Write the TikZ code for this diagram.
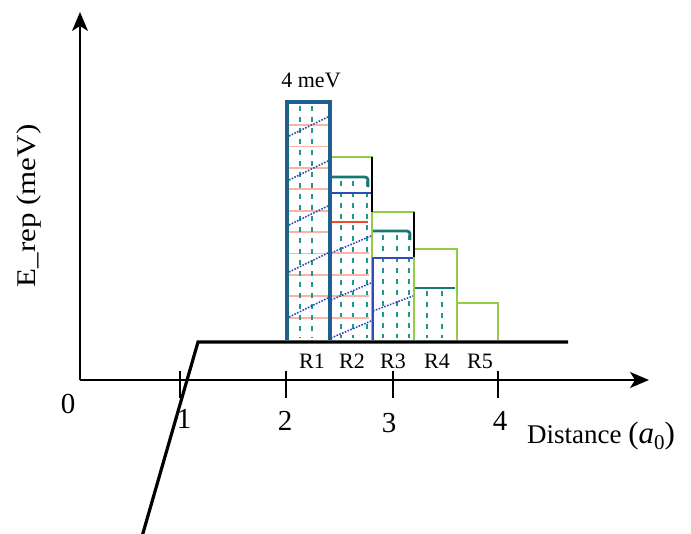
\documentclass[tikz,border=0pt]{standalone}
\usepackage{fontspec}
\setmainfont{Liberation Serif}
\usetikzlibrary{arrows.meta}
\definecolor{tealc}{RGB}{32,150,140}
\definecolor{darkteal}{RGB}{25,105,125}
\definecolor{bluec}{RGB}{45,75,185}
\definecolor{greenc}{RGB}{145,205,70}
\definecolor{pinkc}{RGB}{250,180,165}
\definecolor{redc}{RGB}{240,75,45}
\tikzset{
 axisline/.style={line width=1.4pt,-{Stealth[length=19pt,width=16pt,inset=5pt]}},
 tickline/.style={line width=1.9pt},
 numlbl/.style={font=\fontsize{29}{31}\selectfont, inner sep=0pt, anchor=base},
 rlbl/.style={font=\fontsize{22}{24}\selectfont, inner sep=0pt, anchor=base},
 vdash/.style={tealc,line width=1.9pt,dash pattern=on 5pt off 6pt},
 pinkl/.style={pinkc,line width=1.8pt},
 diagl/.style={bluec,line width=1.6pt,dash pattern=on 1.6pt off 1.4pt},
 greenl/.style={greenc,line width=2.8pt},
 tealtop/.style={tealc!80!black, line width=2.8pt, rounded corners=3pt},
 bluetop/.style={bluec, line width=2.8pt},
 baseline/.style={line width=3.2pt, black},
}
\begin{document}
\begin{tikzpicture}[x=1pt,y=-1pt]
\path[use as bounding box] (0,0) rectangle (691,533);
% axes
\coordinate (O) at (80,380);
\coordinate (ytip) at (80,12);
\coordinate (xtip) at (649,380);
\draw[axisline] (O) -- (ytip);
\draw[axisline] (O) -- (xtip);
\foreach \x in {180,286,393,498} \draw[tickline] (\x,371) -- (\x,398);
\node[numlbl] (n0) at (68,413) {0};
\node[numlbl] (n1) at (184,428) {1};
\node[numlbl] (n2) at (285,430) {2};
\node[numlbl] (n3) at (389,432) {3};
\node[numlbl] (n4) at (500,430) {4};
\node[font=\fontsize{27}{29}\selectfont, inner sep=0pt, anchor=base west] (dist) at (527,443) {Distance {\fontsize{31}{33}\selectfont(\textit{a}\raisebox{-0.22em}{\fontsize{21}{22}\selectfont 0})}};
\node[font=\fontsize{27}{29}\selectfont, inner sep=0pt, rotate=90] (erep) at (29,206) {\scalebox{1.15}[1]{E\_rep (meV)}};
\node[rlbl] (t4) at (311,87) {4 meV};
% R2..R5 green staircase
\draw[greenl] (331,340) -- (331,157) -- (372,157) -- (372,340);
\draw[greenl] (372,212) -- (414,212) -- (414,340);
\draw[greenl] (414,249) -- (457,249) -- (457,340);
\draw[greenl] (457,303) -- (498,303) -- (498,340);
% R2 interior
\foreach \x in {341,353,367} \draw[vdash] (\x,181) -- (\x,338);
\foreach \y in {253,275,296,318} \draw[pinkl] (332,\y) -- (369,\y);
\draw[redc, line width=2.8pt] (331,222) -- (368,222);
\begin{scope}
\clip (331,193) rectangle (371,340);
\draw[diagl] (331,253) -- (371,236);
\draw[diagl] (331,300) -- (371,283);
\draw[diagl] (331,338) -- (371,321);
\end{scope}
\draw[tealtop] (331,177) -- (368,177) -- (368,187);
\draw[bluetop] (330,193) -- (371,193);
\draw[black, line width=1.4pt] (372,157) -- (372,212);
% R3 interior
\foreach \x in {383,397,409} \draw[vdash] (\x,235) -- (\x,338);
\begin{scope}
\clip (373,258) rectangle (413,340);
\draw[diagl] (373,311) -- (413,296);
\end{scope}
\draw[tealtop] (373,231) -- (410,231) -- (410,240);
\draw[bluetop] (373,340) -- (373,258) -- (413,258);
\draw[black, line width=1.4pt] (414,212) -- (414,257);
% R4 interior
\foreach \x in {427,442} \draw[vdash] (\x,291) -- (\x,338);
\draw[tealc!80!black, line width=2.8pt] (415,288) -- (455,288);
% R1 bar
\fill[white] (287,102) rectangle (330,340);
\foreach \k in {0,...,9} \draw[pinkl] (289,125+21.4*\k) -- (328,125+21.4*\k);
\foreach \x in {300,312} \draw[vdash] (\x,106) -- (\x,338);
\foreach \y in {136,180,225,272,317} \draw[diagl] (289,\y) -- (328,\y-19);
\draw[darkteal, line width=3.6pt] (287,340) -- (287,102) -- (330,102) -- (330,340);
\draw[bluec, line width=1.5pt, dash pattern=on 1.5pt off 1.5pt] (287,340) -- (287,102) -- (330,102) -- (330,340);
% thick baseline
\coordinate (bc) at (198,342);
\coordinate (be) at (568,342);
\coordinate (bs) at (141,540);
\draw[baseline] (bs) -- (bc) -- (be);
% R labels
\node[rlbl] (r1) at (312,368) {R1};
\node[rlbl] (r2) at (352,368) {R2};
\node[rlbl] (r3) at (393,368) {R3};
\node[rlbl] (r4) at (437,368) {R4};
\node[rlbl] (r5) at (480,368) {R5};
\end{tikzpicture}
\end{document}
